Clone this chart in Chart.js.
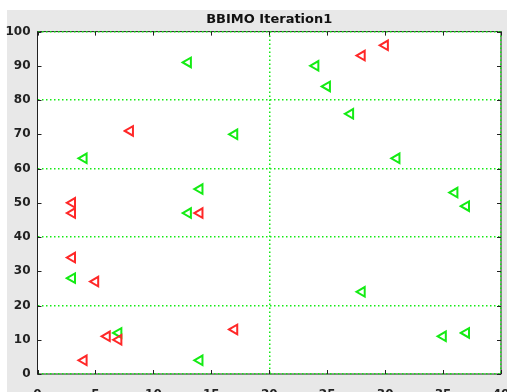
<!DOCTYPE html>
<html>
<head>
<meta charset="utf-8">
<script src="https://cdn.jsdelivr.net/npm/chart.js@4/dist/chart.umd.min.js"></script>
<style>
    html, body { margin: 0; padding: 0; background: #ffffff; overflow: hidden; }
    canvas { display: block; }
</style>
</head>
<body>
<canvas id="graphique" width="507" height="400"></canvas>
<script>
// Données (x, y)
const rougeX = [30, 28, 8, 3, 3, 14, 3, 5, 6, 7, 4, 17];
const rougeY = [96, 93, 71, 50, 47, 47, 34, 27, 11, 10, 4, 13];
const vertX = [13, 24, 25, 27, 17, 4, 31, 14, 36, 37, 13, 3, 28, 7, 14, 35, 37];
const vertY = [91, 90, 84, 76, 70, 63, 63, 54, 53, 49, 47, 28, 24, 12, 4, 11, 12];
const titre = "BBIMO Iteration1";

const ROUGE = "rgb(255, 40, 40)";
const VERT = "rgb(20, 235, 20)";

function versPoints(xs, ys) {
    return xs.map((x, i) => ({ x: x, y: ys[i] }));
}

// Fond gris de la fenêtre + zone blanche + cadre noir
const fondPlugin = {
    id: "fond",
    afterLayout(chart) {
        // centrer le titre au-dessus de la zone de tracé
        if (chart.titleBlock) {
            chart.titleBlock.left = chart.chartArea.left;
            chart.titleBlock.right = chart.chartArea.right;
        }
    },
    beforeDraw(chart) {
        const ctx = chart.ctx;
        const a = chart.chartArea;
        ctx.save();
        ctx.fillStyle = "#e8e8e8";
        ctx.fillRect(7, 10, chart.width - 7, chart.height - 10);
        ctx.fillStyle = "#ffffff";
        ctx.fillRect(a.left, a.top, a.right - a.left, a.bottom - a.top);
        ctx.strokeStyle = "#222222";
        ctx.lineWidth = 1;
        ctx.strokeRect(a.left, a.top, a.right - a.left, a.bottom - a.top);
        ctx.restore();
    },
    afterDraw(chart) {
        // petites graduations vers l'intérieur, sur les quatre côtés
        const ctx = chart.ctx;
        const a = chart.chartArea;
        const sx = chart.scales.x;
        const sy = chart.scales.y;
        ctx.save();
        ctx.strokeStyle = "#222222";
        ctx.lineWidth = 1;
        ctx.beginPath();
        sy.ticks.forEach(t => {
            const py = Math.round(sy.getPixelForValue(t.value)) + 0.5;
            ctx.moveTo(a.left, py); ctx.lineTo(a.left + 4, py);
            ctx.moveTo(a.right, py); ctx.lineTo(a.right - 4, py);
        });
        sx.ticks.forEach(t => {
            const px = Math.round(sx.getPixelForValue(t.value)) + 0.5;
            ctx.moveTo(px, a.bottom); ctx.lineTo(px, a.bottom - 4);
            ctx.moveTo(px, a.top); ctx.lineTo(px, a.top + 4);
        });
        ctx.stroke();
        ctx.restore();
    }
};

function couleurGrille(ctx, garderZero) {
    const v = ctx.tick.value;
    if (v % 20 !== 0) return "rgba(0,0,0,0)";
    if (v === 0 && !garderZero) return "rgba(0,0,0,0)";
    return VERT;
}

const policeTicks = { family: "DejaVu Sans", size: 12, weight: "bold" };

const graphique = new Chart(document.getElementById("graphique"), {
    type: "scatter",
    data: {
        datasets: [
            {
                label: "rouge",
                data: versPoints(rougeX, rougeY),
                pointStyle: "triangle",
                rotation: -90,
                pointRadius: 5.5,
                borderWidth: 2,
                borderColor: ROUGE,
                backgroundColor: "rgba(0,0,0,0)",
            },
            {
                label: "vert",
                data: versPoints(vertX, vertY),
                pointStyle: "triangle",
                rotation: -90,
                pointRadius: 5.5,
                borderWidth: 2,
                borderColor: VERT,
                backgroundColor: "rgba(0,0,0,0)",
            },
        ],
    },
    options: {
        responsive: false,
        animation: false,
        layout: { autoPadding: false, padding: { left: 0, right: 6, top: 0, bottom: 0 } },
        plugins: {
            legend: { display: false },
            tooltip: { enabled: false },
            title: {
                display: true,
                text: titre,
                color: "#111111",
                font: { family: "DejaVu Sans", size: 13, weight: "bold" },
                padding: { top: 12, bottom: 4 },
            },
        },
        scales: {
            x: {
                type: "linear",
                min: 0,
                max: 40,
                afterFit: (scale) => {
                    scale.height = 26;
                    scale.paddingLeft = 0;
                    scale.paddingRight = 0;
                },
                ticks: { stepSize: 5, color: "#222222", font: policeTicks, padding: 14, maxRotation: 0 },
                grid: {
                    drawTicks: false,
                    lineWidth: 1.5,
                    color: (ctx) => couleurGrille(ctx, false),
                },
                border: { display: false, dash: [1.5, 2.5] },
            },
            y: {
                type: "linear",
                min: 0,
                max: 100,
                afterFit: (scale) => {
                    scale.width = 37.5;
                    scale.paddingTop = 0;
                    scale.paddingBottom = 0;
                },
                ticks: { stepSize: 10, color: "#222222", font: policeTicks, padding: 7 },
                grid: {
                    drawTicks: false,
                    lineWidth: 1.5,
                    color: (ctx) => couleurGrille(ctx, true),
                },
                border: { display: false, dash: [1.5, 2.5] },
            },
        },
    },
    plugins: [fondPlugin],
});
</script>
</body>
</html>
